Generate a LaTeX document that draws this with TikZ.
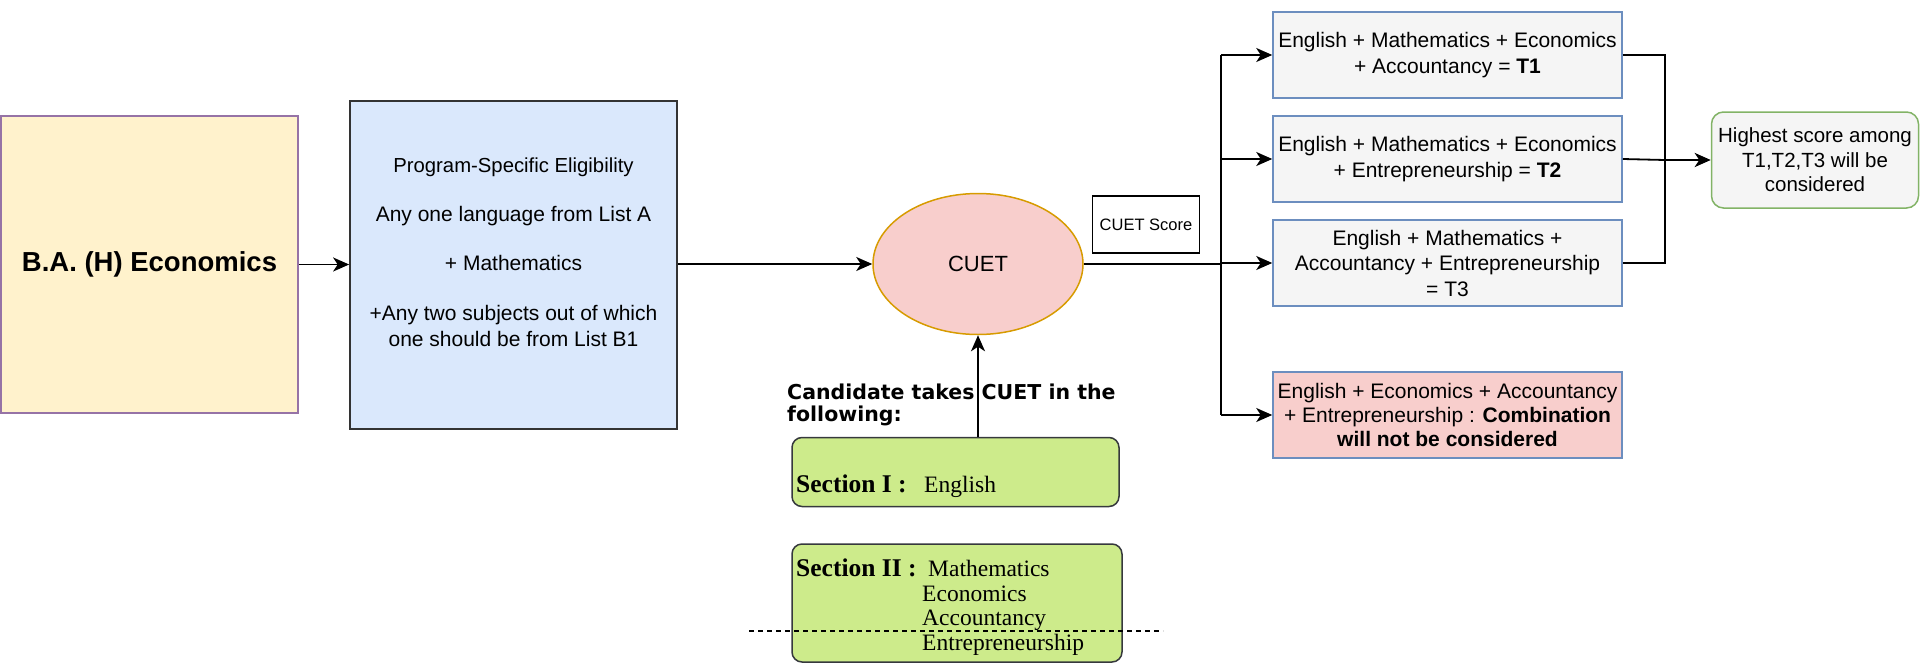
\documentclass[tikz,border=0pt]{standalone}
\usepackage{fontspec}
\setmainfont{Liberation Sans}
\newfontfamily\serifft{Liberation Serif}
\newfontfamily\dvs{DejaVu Sans}
\usetikzlibrary{arrows.meta,shapes.geometric}
\definecolor{bafill}{HTML}{FFF2CC}
\definecolor{badraw}{HTML}{9673A6}
\definecolor{blfill}{HTML}{DAE8FC}
\definecolor{bldraw}{HTML}{333333}
\definecolor{pkfill}{HTML}{F8CECC}
\definecolor{ordraw}{HTML}{D79B00}
\definecolor{gyfill}{HTML}{F5F5F5}
\definecolor{tbdraw}{HTML}{6C8EBF}
\definecolor{grdraw}{HTML}{82B366}
\definecolor{lgfill}{HTML}{CDEB8B}
\definecolor{lgdraw}{HTML}{36393D}
\begin{document}
\begin{tikzpicture}[x=1pt,y=-1pt,
  box/.style={draw, line width=1.5pt, inner sep=0pt, align=center},
  txt/.style={inner sep=0pt, align=center},
  normal/.style={font=\fontsize{21}{25.5}\selectfont},
  arr/.style={line width=1.8pt, -{Stealth[length=16pt,width=14pt,inset=4.5pt]}},
  conn/.style={line width=1.8pt},
  tbox/.style={box, normal, fill=gyfill, draw=tbdraw, minimum width=349pt, minimum height=86pt},
  secbox/.style={draw=lgdraw, fill=lgfill, line width=1.5pt, rounded corners=10pt, inner sep=0pt},
  sectxt/.style={inner sep=0pt, anchor=base west, font=\serifft\fontsize{23.5}{24.5}\selectfont},
  secbold/.style={inner sep=0pt, anchor=base west, font=\serifft\bfseries\fontsize{25.5}{26}\selectfont}
]
\useasboundingbox (0,0) rectangle (1920,664);

% left boxes
\node[box, fill=bafill, draw=badraw, minimum width=297pt, minimum height=297pt,
  font=\bfseries\fontsize{27.5}{32}\selectfont] (ba) at (149.5,264.5) {B.A. (H) Economics};
\node[box, fill=blfill, draw=bldraw, line width=1.7pt, minimum width=327pt, minimum height=328pt] (elig) at (513.5,265) {};
\node[txt, font=\fontsize{21}{25.5}\selectfont] (eligt) at (513.5,252)
  {{\fontsize{20.3}{23}\selectfont Program-Specific Eligibility}\\[24pt]
   Any one language from List A\\[23pt]
   + Mathematics\\[25pt]
   +Any two subjects out of which\\
   one should be from List B1};

% CUET
\node[ellipse, draw=ordraw, fill=pkfill, line width=1.5pt, minimum width=210pt, minimum height=141pt,
  inner sep=0pt, font=\fontsize{22}{25}\selectfont] (cuet) at (978,264) {CUET};
\node[box, draw=black, fill=white, line width=1.4pt, minimum width=107pt, minimum height=57pt,
  font=\fontsize{16.5}{20}\selectfont] (score) at (1146,224.5) {CUET Score};

% candidate
\node[inner sep=0pt, anchor=west, align=left, font=\dvs\bfseries\fontsize{20.5}{22}\selectfont] (cand) at (787,405)
  {Candidate takes CUET in the\\following:};
\node[secbox, minimum width=327pt, minimum height=69pt] (s1) at (955.5,472) {};
\node[secbold] (s1b) at (796,492) {Section I :};
\node[sectxt] (s1t) at (924,492) {English};
\node[secbox, minimum width=330pt, minimum height=118pt] (s2) at (957,603) {};
\node[secbold] (s2l) at (796,576) {Section II :};
\node[sectxt] (s2a) at (928,576) {Mathematics};
\node[sectxt] (s2b) at (922,601) {Economics};
\node[sectxt] (s2c) at (922,625) {Accountancy};
\node[sectxt] (s2d) at (922,650) {Entrepreneurship};
\coordinate (dl) at (749,631);
\coordinate (dr) at (1163,631);
\draw[line width=1.2pt, dash pattern=on 5pt off 4pt] (dl) -- (dr);

% combination boxes
\node[tbox] (t1) at (1447.5,55) {English + Mathematics + Economics\\+ Accountancy = \textbf{T1}};
\node[tbox] (t2) at (1447.5,159) {English + Mathematics + Economics\\+ Entrepreneurship = \textbf{T2}};
\node[tbox] (t3) at (1447.5,263) {English + Mathematics +\\Accountancy + Entrepreneurship\\= T3};
\node[tbox, fill=pkfill, font=\fontsize{21}{24}\selectfont] (red) at (1447.5,415)
  {English + Economics + Accountancy\\+ Entrepreneurship : \textbf{Combination}\\\textbf{will not be considered}};
\node[box, fill=gyfill, draw=grdraw, rounded corners=12pt, minimum width=207pt, minimum height=96pt,
  font=\fontsize{20.5}{24.5}\selectfont] (high) at (1815,160) {Highest score among\\T1,T2,T3 will be\\considered};

% connectors
\draw[arr] (ba.east) -- (ba.east -| elig.west);
\draw[arr] (elig.east |- cuet.west) -- (cuet.west);
\draw[arr] (cuet.south |- s1.north) -- (cuet.south);

\coordinate (bx) at (1221,264);
\draw[conn] (cuet.east) -- (bx);
\draw[conn] (bx |- t1.west) -- (bx |- red.west);
\draw[arr] (bx |- t1.west) -- (t1.west);
\draw[arr] (bx |- t2.west) -- (t2.west);
\draw[arr] (bx |- t3.west) -- (t3.west);
\draw[arr] (bx |- red.west) -- (red.west);

\coordinate (mx) at (1665,160);
\draw[conn] (t1.east) -- (t1.east -| mx) -- (t3.east -| mx) -- (t3.east);
\draw[conn] (t2.east) -- (mx);
\draw[arr, line width=2.8pt] (mx) -- (high.west);
\end{tikzpicture}
\end{document}
